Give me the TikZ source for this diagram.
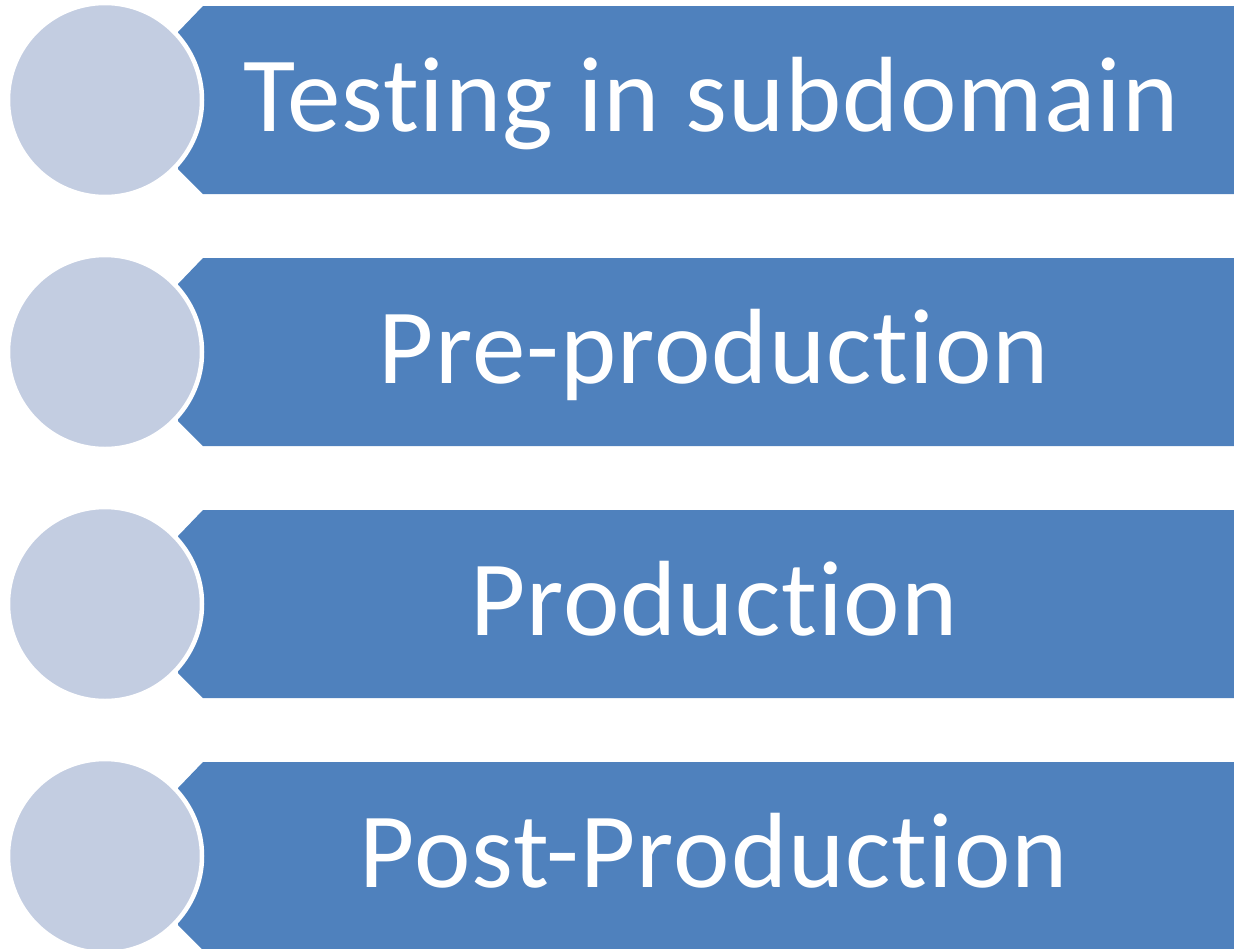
\documentclass[tikz,border=0pt]{standalone}
\usepackage{fontspec}
\setmainfont[Ligatures=CommonOff, LetterSpace=1]{Carlito}
\usepackage{tikz}

\definecolor{bannerblue}{HTML}{4F81BD}
\definecolor{discgrey}{HTML}{C3CDE1}

\tikzset{
  banner/.style={fill=bannerblue},
  disc/.style={circle, fill=discgrey, draw=white, line width=4.5pt,
    minimum size=194pt, inner sep=0pt},
  label/.style={text=white, anchor=base,
    font=\fontsize{107}{120}\selectfont}
}

\begin{document}
\begin{tikzpicture}[x=1pt, y=-1pt]
        \useasboundingbox (0, 0) rectangle (1234, 948);

        % first step
        \fill[banner] (178, 32) -- (203, 6) -- (1240, 6) -- (1240, 194)
          -- (203, 194) -- (178, 169) -- cycle;
        \node[disc] (D1) at (105, 100) {};
        \node[label] (T1) at (711, 131) {Testing in subdomain};

        % second step
        \fill[banner] (178, 284) -- (203, 258) -- (1240, 258) -- (1240, 446)
          -- (203, 446) -- (178, 421) -- cycle;
        \node[disc] (D2) at (105, 352) {};
        \node[label] (T2) at (714, 383) {Pre-production};

        % third step
        \fill[banner] (178, 536) -- (203, 510) -- (1240, 510) -- (1240, 698)
          -- (203, 698) -- (178, 673) -- cycle;
        \node[disc] (D3) at (105, 604) {};
        \node[label] (T3) at (714, 635) {Production};

        % fourth step
        \fill[banner] (178, 788) -- (203, 762) -- (1240, 762) -- (1240, 950)
          -- (203, 950) -- (178, 925) -- cycle;
        \node[disc] (D4) at (105, 856) {};
        \node[label] (T4) at (714, 887) {Post-Production};
      \end{tikzpicture}
\end{document}
